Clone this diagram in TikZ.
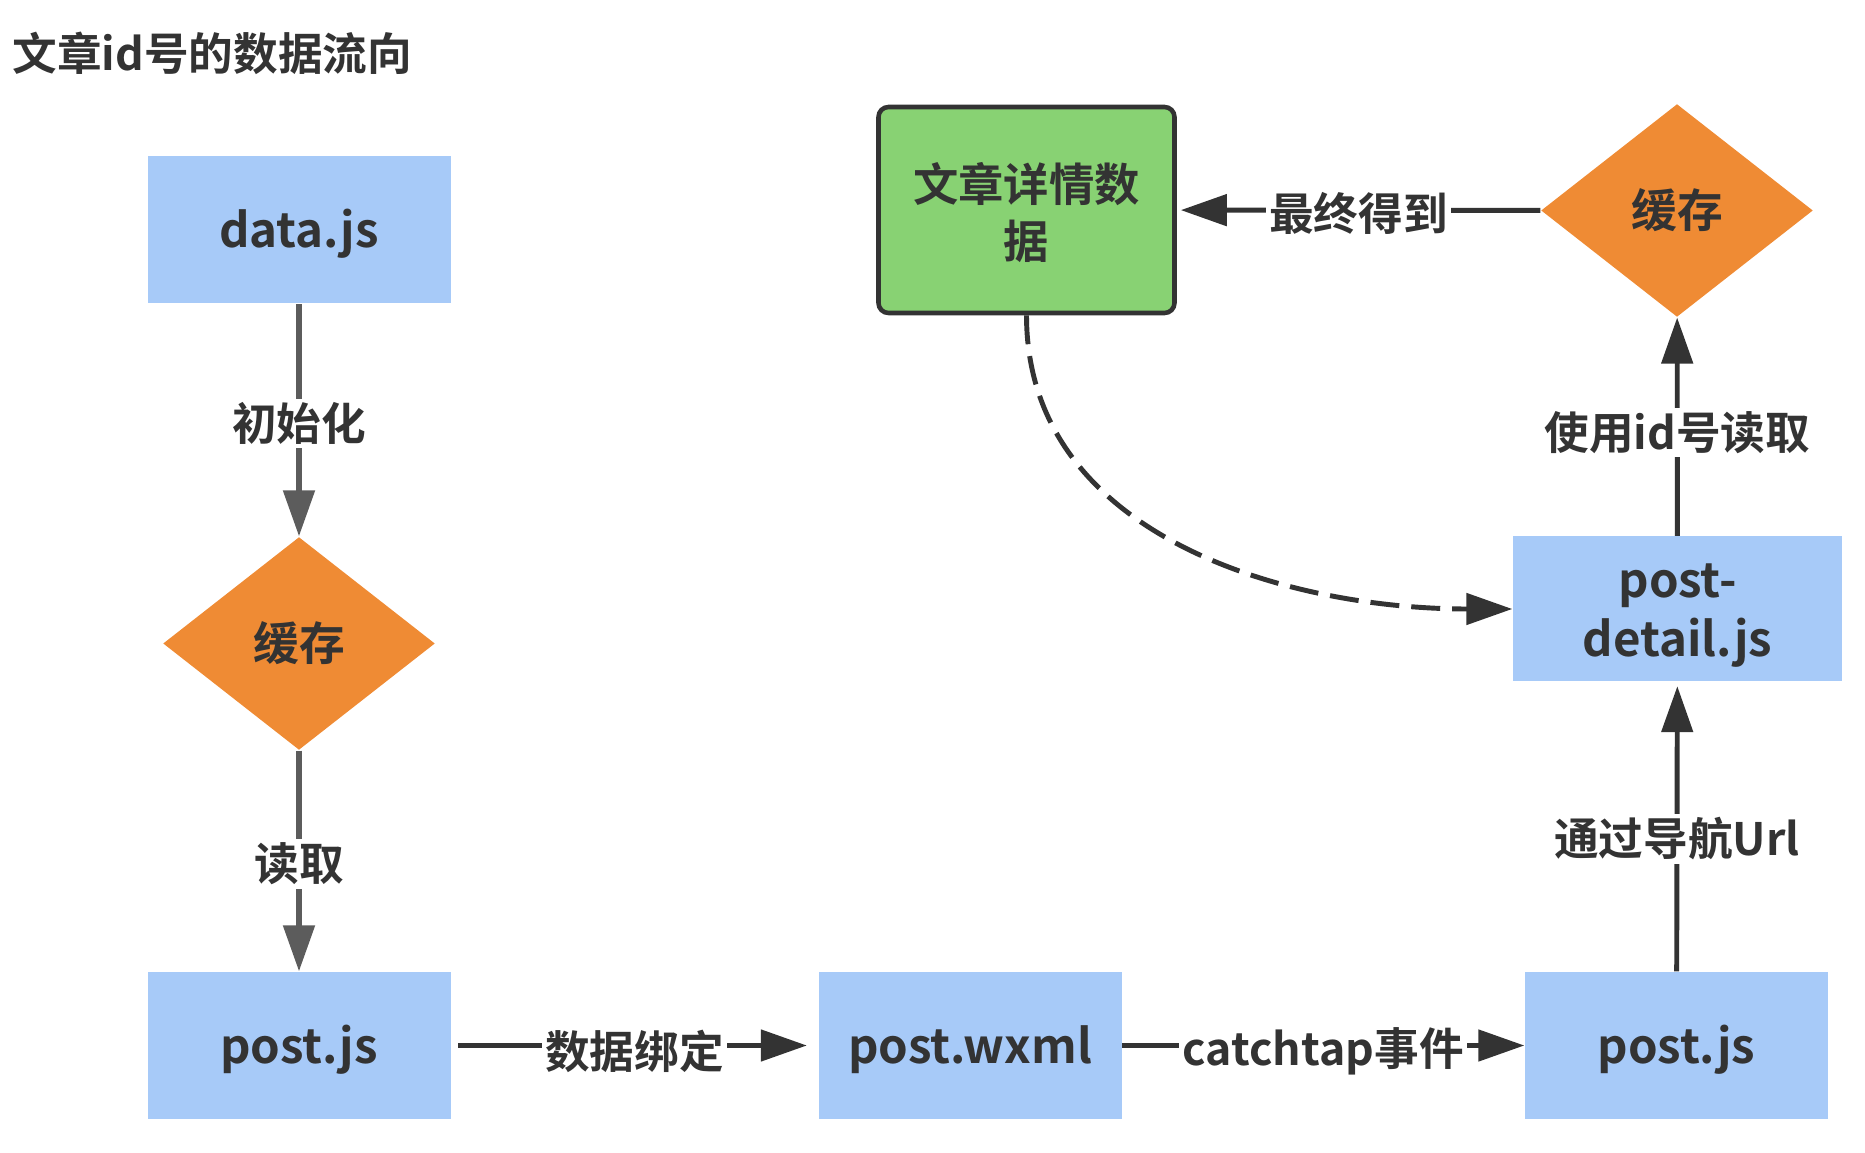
\documentclass[tikz,border=0pt]{standalone}
\usepackage{fontspec}
\setmainfont{Noto Sans CJK SC}[BoldFont={Noto Sans CJK SC Bold}]
\usetikzlibrary{shapes.geometric,arrows.meta}
\definecolor{jsblue}{HTML}{A7CAF8}
\definecolor{cacheorange}{HTML}{EF8B34}
\definecolor{detailgreen}{HTML}{88D273}
\definecolor{inkdark}{HTML}{333333}
\definecolor{inkgray}{HTML}{5C5C5C}

\begin{document}
\begin{tikzpicture}[>={Triangle[length=0.46cm,width=0.31cm]}, line join=round,
	jsbox/.style={fill=jsblue, minimum width=3.03cm, minimum height=1.47cm, align=center, text=inkdark, font=\bfseries\fontsize{13.5pt}{16.7pt}\selectfont},
	cache/.style={diamond, fill=cacheorange, minimum width=2.72cm, minimum height=2.13cm, inner sep=0pt, text=inkdark, font=\bfseries\fontsize{13pt}{16pt}\selectfont},
	lbl/.style={fill=white, inner sep=1pt, yshift=-0.06cm, text=inkdark, font=\bfseries\fontsize{12.7pt}{15pt}\selectfont},
	flowL/.style={draw=inkgray, line width=1.5pt, ->},
	flowR/.style={draw=inkdark, line width=1.4pt, ->}]
	\useasboundingbox (0,0) rectangle (18.65,-11.53);
	\node[anchor=west, inner sep=0pt, text=inkdark, font=\bfseries\fontsize{12.7pt}{15pt}\selectfont] (title) at (0.12,-0.535) {文章id号的数据流向};
	% left column
	\node[jsbox, text height=1.3em, text depth=0.3em] (data) at (2.99,-2.30) {data.js};
	\node[cache] (cacheL) at (2.99,-6.435) {缓存};
	\node[jsbox, text height=1.3em, text depth=0.3em] (postL) at (2.99,-10.455) {post.js};
	% bottom row and right column
	\node[jsbox, text height=1.3em, text depth=0.3em] (wxml) at (9.70,-10.455) {post.wxml};
	\node[jsbox, text height=1.3em, text depth=0.3em] (postR) at (16.765,-10.455) {post.js};
	\node[jsbox, minimum width=3.29cm, minimum height=1.45cm] (detail) at (16.775,-6.09) {\rule{0pt}{1em}post-\\detail.js};
	\node[cache] (cacheR) at (16.77,-2.105) {缓存};
	\node[draw=inkdark, line width=1.3pt, rounded corners=0.1cm, fill=detailgreen, minimum width=2.96cm, minimum height=2.06cm, align=center, text=inkdark, font=\bfseries\fontsize{12.9pt}{16.2pt}\selectfont] (article) at (10.265,-2.10) {\rule{0pt}{0.97em}文章详情数\\据};
	\draw[flowL] (data) -- node[lbl, yshift=0.03cm]{初始化} (cacheL);
	\draw[flowL] (cacheL) -- node[lbl, yshift=0.03cm]{读取} (postL);
	\draw[flowR, shorten <=0.07cm, shorten >=0.11cm] (postL) -- node[lbl]{数据绑定} (wxml);
	\draw[flowR] (wxml) -- node[lbl]{catchtap事件} (postR);
	\draw[flowR, shorten >=0.04cm] (postR) -- node[lbl, yshift=-0.06cm]{通过导航Url} (detail);
	\draw[flowR] (detail) -- node[lbl]{使用id号读取} (cacheR);
	\draw[flowR, shorten >=0.04cm] (cacheR) -- node[lbl, yshift=0.03cm]{最终得到} (article);
	\draw[flowR, dash pattern=on 0.29cm off 0.12cm] (article.south) to[out=-90, in=180] (detail.west);
\end{tikzpicture}
\end{document}
